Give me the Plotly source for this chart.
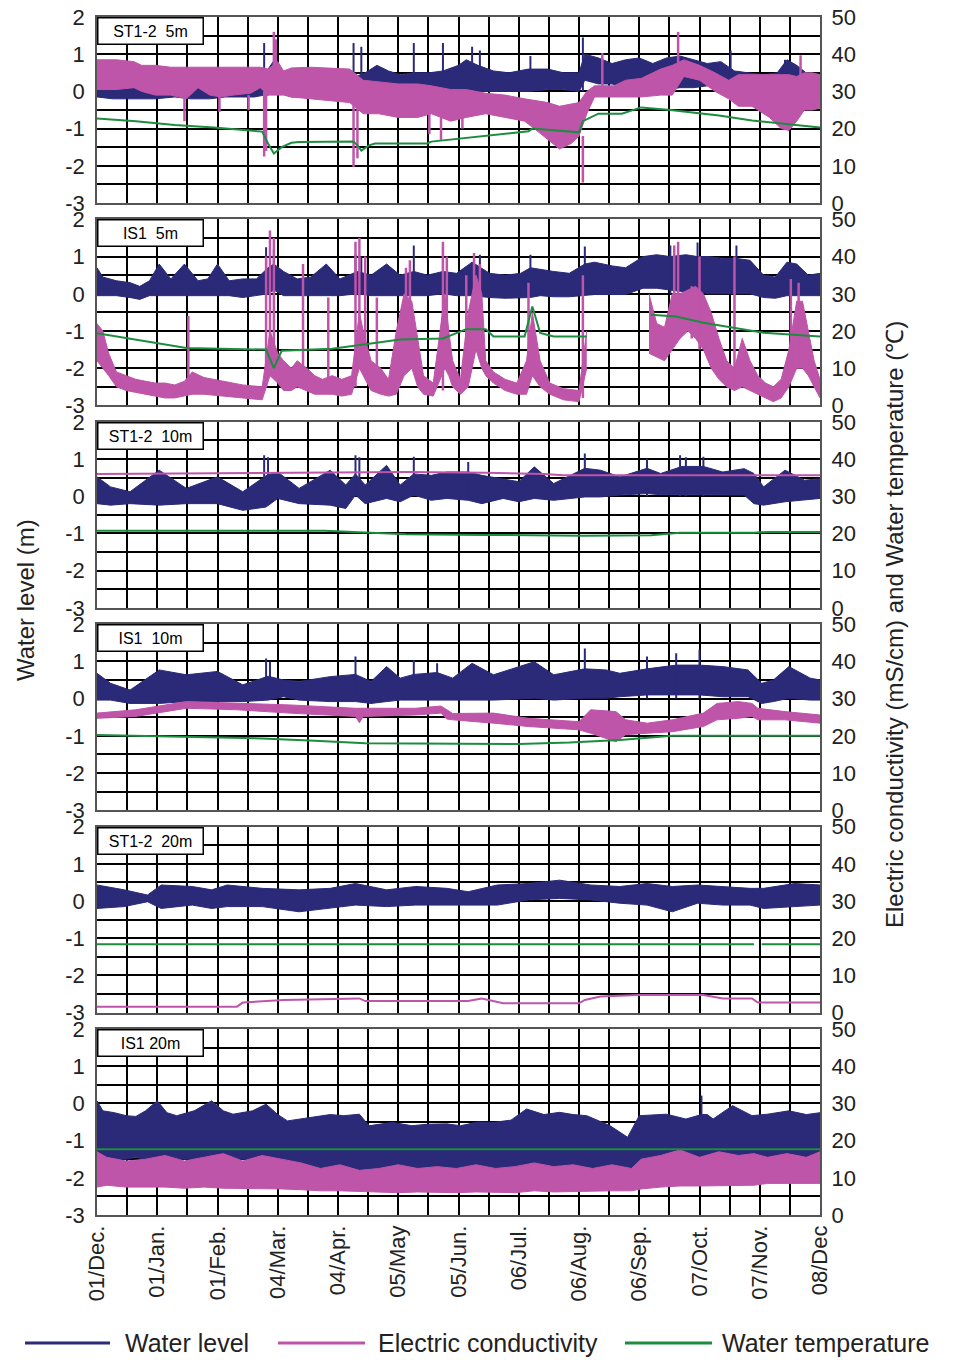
import plotly.graph_objects as go

# ---------------- DATA (day 0 = 01/Dec, day 372 = 08/Dec) ----------------
TICK_LABELS = ["01/Dec.", "01/Jan.", "01/Feb.", "04/Mar.", "04/Apr.", "05/May", "05/Jun.",
               "06/Jul.", "06/Aug.", "06/Sep.", "07/Oct.", "07/Nov.", "08/Dec"]
PANEL_NAMES = ["ST1-2\u00a0\u00a05m", "IS1\u00a0\u00a05m", "ST1-2\u00a0\u00a010m",
               "IS1\u00a0\u00a010m", "ST1-2\u00a0\u00a020m", "IS1\u00a020m"]
SERIES_NAMES = ["Water level", "Electric conductivity", "Water temperature"]

# ---- Panel 1: ST1-2 5m (water level band in m; EC band in mS/cm; temperature in degC)
P1_WL_DAY = [0, 8, 16, 22, 30, 40, 48, 58, 66, 74, 81, 86, 88, 92, 95, 100, 108, 116, 124, 131,
             138, 144, 150, 156, 163, 171, 178, 186, 190, 196, 204, 212, 222, 232, 240, 248, 251, 258, 265, 272,
             279, 286, 293, 300, 307, 314, 321, 328, 335, 343, 350, 355, 360, 366, 372]
P1_WL_HI = [0.35, 0.30, 0.15, 0.10, 0.15, 0.20, 0.30, 0.25, 0.30, 0.35, 0.40, 0.45, 0.60, 0.90, 0.50, 0.30, 0.25, 0.30, 0.30, 0.35,
            0.50, 0.70, 0.55, 0.45, 0.50, 0.50, 0.55, 0.70, 0.85, 0.70, 0.55, 0.50, 0.60, 0.60, 0.50, 0.50, 1.00, 0.90, 0.75, 0.85,
            0.90, 0.75, 0.90, 0.95, 0.85, 0.75, 0.80, 0.55, 0.50, 0.45, 0.50, 0.85, 0.70, 0.45, 0.45]
P1_WL_LO = [-0.15, -0.2, -0.2, -0.2, -0.2, -0.15, -0.2, -0.2, -0.15, -0.15, -0.15, -0.1, -0.1, 0.0, -0.05, -0.15, -0.15, -0.1, -0.1, -0.1,
            0.05, 0.05, 0.0, 0.05, 0.0, 0.05, 0.05, 0.0, 0.0, 0.0, 0.0, 0.0, 0.0, 0.05, 0.05, 0.0, 0.3, 0.2, 0.2, 0.1,
            -0.05, 0.0, 0.05, 0.1, 0.1, 0.15, 0.2, 0.25, 0.3, 0.3, 0.25, 0.3, 0.3, 0.25, 0.25]
P1_WL_SPIKE_DAY = [53, 82, 86, 132, 136, 163, 178, 193, 197, 223, 250, 326, 354]
P1_WL_SPIKE_TOP = [0.5, 0.5, 1.3, 1.3, 1.2, 1.3, 1.3, 1.2, 1.1, 0.95, 1.45, 1.1, 0.85]
P1_EC_DAY = [0, 10, 19, 23, 30, 38, 46, 52, 58, 64, 70, 79, 84, 88, 93, 96, 100, 110, 120, 130,
             137, 145, 155, 165, 172, 182, 190, 200, 210, 220, 225, 232, 238, 244, 248, 252, 256, 266, 272, 280,
             290, 296, 302, 310, 318, 325, 330, 337, 340, 346, 352, 356, 360, 364, 368, 372]
P1_EC_HI = [38.5, 38.5, 38, 37, 37, 36.5, 36.5, 36.5, 36.5, 36.5, 36.5, 36.5, 36.5, 36, 38, 35.5, 36.3, 36.5, 36.3, 36,
            33, 32.5, 32, 32, 31.5, 30.5, 30.5, 29.5, 29, 28, 27.5, 27, 26, 26.5, 27, 30, 31.5, 31.5, 33, 33.5,
            36, 37, 38.5, 37, 35, 33, 34.5, 34.5, 34.5, 34.5, 34.5, 34.5, 34, 35, 35, 34.5]
P1_EC_LO = [30.5, 30.5, 31, 30, 29, 29, 28, 31, 29, 28.5, 29, 29.5, 31, 29, 29, 29, 28.5, 28, 27.5, 27,
            24, 24, 23, 23, 24, 22, 23, 24, 23, 22, 20, 17, 14.5, 16, 18, 24, 28.5, 28.5, 28.5, 28.5,
            29, 29, 34, 33, 30, 28, 26, 26, 25, 23, 20, 19.5, 22, 25, 25, 25.5]
P1_EC_SPIKE_DAY = [45, 63, 78, 86, 87, 91, 92, 132, 134, 171, 177, 188, 250, 260, 299, 362]
P1_EC_SPIKE_FROM = [29, 29, 29, 30, 30, 36, 36, 27, 27, 24, 23, 23, 18, 31, 37, 34]
P1_EC_SPIKE_TO = [22, 24.5, 25, 12.5, 14, 46, 44, 9.7, 12, 18.5, 17, 20, 5.5, 40.3, 46, 39.7]
P1_T_DAY = [0, 20, 40, 60, 85, 88, 91, 95, 100, 104, 132, 134, 136, 140, 143, 170, 172, 200, 222, 224,
            248, 250, 258, 270, 280, 295, 320, 337, 372]
P1_T = [22.7, 22, 21, 20.3, 19.2, 16, 13.3, 15, 16.2, 16.4, 16.5, 15.5, 14.1, 15.5, 16, 16, 16.5, 18, 19.3, 20,
        19, 22, 24, 24, 25.7, 25, 23.5, 22.2, 20.3]

# ---- Panel 2: IS1 5m
P2_WL_DAY = [0, 3, 10, 17, 22, 27, 32, 38, 45, 52, 57, 62, 68, 75, 82, 88, 91, 96, 103, 110,
             118, 125, 134, 141, 149, 156, 163, 170, 178, 185, 193, 202, 210, 218, 223, 228, 235, 243, 251, 256,
             265, 272, 281, 288, 295, 303, 309, 315, 322, 329, 336, 343, 349, 355, 360, 366, 372]
P2_WL_HI = [0.7, 0.45, 0.35, 0.3, 0.2, 0.35, 0.8, 0.4, 0.8, 0.35, 0.4, 0.8, 0.35, 0.4, 0.4, 0.7, 0.8, 0.6, 0.4, 0.45,
            0.8, 0.4, 0.6, 0.5, 0.8, 0.5, 0.6, 0.5, 0.6, 0.55, 0.85, 0.55, 0.5, 0.55, 0.7, 0.65, 0.6, 0.55, 0.8, 0.85,
            0.75, 0.7, 1.0, 1.05, 1.0, 1.05, 1.0, 1.0, 0.95, 0.95, 0.9, 0.5, 0.45, 0.85, 0.8, 0.5, 0.55]
P2_WL_LO = [-0.05, -0.05, -0.05, -0.1, -0.15, -0.05, -0.05, -0.05, -0.05, -0.05, -0.05, -0.05, -0.05, -0.1, -0.05, 0.0, 0.1, -0.05, -0.05, -0.05,
            -0.05, -0.05, 0.0, -0.05, -0.05, -0.05, -0.05, -0.05, 0.0, -0.05, -0.05, -0.1, -0.12, -0.1, -0.1, -0.05, -0.08, -0.08, -0.05, -0.02,
            -0.02, -0.02, 0.15, 0.15, 0.1, 0.05, 0.05, 0.0, 0.0, 0.0, 0.0, -0.1, -0.12, -0.05, -0.05, -0.05, -0.05]
P2_WL_SPIKE_DAY = [87, 91, 133, 136, 163, 178, 197, 223, 251, 295, 309, 329]
P2_WL_SPIKE_TOP = [1.25, 1.2, 1.05, 1.0, 1.3, 1.25, 1.05, 1.05, 1.27, 1.3, 1.38, 1.3]
P2_EC_DAY = [0, 3, 6, 10, 15, 20, 25, 30, 35, 40, 45, 49, 55, 65, 75, 85, 89, 93, 96, 100,
             103, 108, 112, 116, 121, 126, 131, 135, 137, 141, 146, 150, 154, 158, 162, 165, 168, 173, 179, 181,
             183, 187, 191, 195, 198, 200, 204, 210, 216, 221, 224, 228, 233, 240, 248, 252, None,
             284, 288, 292, 296, 300, 304, 308, 312, 316, 320, 324, 328, 332, 336, 340, 344, 348, 352, 356, 360,
             363, 366, 369, 372]
P2_EC_HI = [22, 20, 14, 9, 8, 7, 6.5, 6, 6, 5.5, 6.5, 9, 7.5, 6.5, 5.5, 5, 20, 14, 12, 10,
            12, 10, 8, 7, 8, 7, 8, 25, 20, 12, 10, 7, 20, 30, 28, 18, 8, 6, 30, 20,
            12, 7, 25, 35, 30, 12, 9, 7, 6, 12, 25, 12, 6, 4.5, 4, 20, None,
            30, 22, 21, 30, 30, 31, 32, 30, 25, 18, 12, 10, 18, 12, 8, 6, 5, 7, 15, 28,
            28, 20, 12, 7]
P2_EC_LO = [12, 10, 8, 5, 4, 3.5, 3, 2.5, 2, 2, 2.5, 3, 3, 2.5, 2, 1.5, 8, 6, 4, 4,
            5, 4, 3, 3, 3, 2.5, 3, 10, 8, 4, 3, 2.5, 3, 8, 10, 5, 3, 2.5, 10, 8,
            5, 3, 5, 15, 10, 8, 6, 4, 3, 3, 8, 5, 3, 1.5, 1, 10, None,
            14, 13, 12, 15, 18, 20, 18, 15, 10, 7, 5, 4, 5, 4, 3, 2, 1, 2, 5, 10,
            10, 8, 5, 2]
P2_EC_SPIKE_DAY = [47, 87, 89, 91, 106, 119, 133, 135, 138, 144, 159, 161, 178, 180, 190, 194, 197, 222, 250,
                   297, 299, 306, 310, 328, 357, 361]
P2_EC_SPIKE_FROM = [5, 5, 10, 10, 5, 4, 5, 10, 8, 4, 10, 10, 4, 15, 5, 15, 15, 10, 2,
                    18, 18, 18, 15, 5, 10, 10]
P2_EC_SPIKE_TO = [24, 40, 47, 45, 38, 29, 44, 45, 40, 29, 37, 39, 44, 40, 35, 41, 38, 33, 35,
                  43, 44, 32, 40, 40, 34, 33]
P2_T_DAY = [0, 19, 46, 87, 91, 95, 121, 156, 178, 190, 200, 204, 220, 224, 228, 235, 252, None,
            285, 298, 312, 329, 343, 372]
P2_T = [19.4, 17.7, 15.4, 15, 10, 14.7, 15.2, 17.7, 18, 20.5, 20.5, 18.5, 18.5, 26.6, 19.5, 18.5, 18.5, None,
        24.4, 23.9, 22.2, 20.7, 19.5, 18.5]

# ---- Panel 3: ST1-2 10m
P3_WL_DAY = [0, 7, 17, 32, 46, 62, 75, 87, 93, 104, 120, 128, 133, 138, 149, 156, 163, 172, 180, 191,
             198, 209, 217, 225, 235, 251, 259, 269, 283, 290, 301, 312, 322, 333, 338, 343, 354, 364, 372]
P3_WL_HI = [0.52, 0.25, 0.12, 0.70, 0.21, 0.52, 0.12, 0.55, 0.65, 0.21, 0.70, 0.30, 0.60, 0.30, 0.83, 0.30, 0.60, 0.56, 0.65, 0.65,
            0.56, 0.47, 0.39, 0.79, 0.34, 0.75, 0.70, 0.52, 0.75, 0.61, 0.80, 0.80, 0.65, 0.74, 0.61, 0.25, 0.70, 0.43, 0.47]
P3_WL_LO = [-0.20, -0.24, -0.20, -0.24, -0.20, -0.20, -0.38, -0.29, -0.06, -0.20, -0.24, -0.33, 0.03, -0.20, -0.06, -0.15, 0.03, -0.11, -0.06, -0.11,
            -0.20, -0.06, -0.15, -0.06, -0.11, -0.02, -0.02, 0.03, 0.07, 0.04, 0.04, 0.04, 0.03, 0.03, -0.20, -0.24, -0.15, -0.11, -0.06]
P3_WL_SPIKE_DAY = [86, 88, 133, 135, 163, 191, 251, 283, 300, 303, 312]
P3_WL_SPIKE_TOP = [1.1, 1.05, 1.1, 1.05, 1.06, 0.92, 1.15, 1.01, 1.1, 1.05, 1.06]
P3_EC_DAY = [0, 40, 80, 120, 160, 200, 230, 240, 280, 320, 372]
P3_EC = [36.0, 36.1, 36.3, 36.5, 36.5, 36.3, 36.0, 35.6, 35.6, 35.7, 35.6]
P3_T_DAY = [0, 117, 135, 159, 200, 250, 285, 300, 338, 345, 372]
P3_T = [20.7, 20.7, 20.3, 19.8, 19.6, 19.4, 19.5, 20.2, 20.2, 20.4, 20.4]

# ---- Panel 4: IS1 10m
P4_WL_DAY = [0, 7, 17, 32, 46, 62, 75, 88, 96, 104, 120, 133, 141, 149, 156, 163, 175, 183, 193, 204,
             225, 235, 251, 262, 269, 283, 298, 310, 322, 335, 342, 348, 356, 367, 372]
P4_WL_HI = [0.68, 0.41, 0.23, 0.77, 0.64, 0.73, 0.37, 0.60, 0.50, 0.46, 0.59, 0.65, 0.46, 0.86, 0.55, 0.65, 0.70, 0.55, 0.95, 0.64,
            0.99, 0.64, 0.80, 0.77, 0.68, 0.80, 0.90, 0.90, 0.86, 0.77, 0.41, 0.50, 0.86, 0.55, 0.50]
P4_WL_LO = [-0.04, -0.04, -0.13, -0.13, -0.08, -0.08, -0.08, -0.04, 0.05, -0.04, -0.08, -0.08, -0.13, -0.08, -0.04, -0.04, -0.04, -0.04, -0.04, -0.04,
            0.01, -0.04, 0.01, 0.01, 0.05, 0.10, 0.10, 0.10, 0.05, 0.05, -0.13, -0.08, 0.01, -0.04, -0.04]
P4_WL_SPIKE_DAY = [87, 89, 133, 163, 175, 251, 283, 298, 310]
P4_WL_SPIKE_TOP = [1.08, 1.0, 1.13, 1.04, 0.95, 1.35, 1.13, 1.22, 1.31]
P4_EC_DAY = [0, 20, 46, 72, 99, 133, 135, 137, 164, 177, 180, 183, 204, 222, 248, 254, 267, 272, 283, 296,
             312, 319, 330, 337, 340, 354, 372]
P4_EC_HI = [26.1, 27, 29.2, 28.7, 28.3, 27.4, 27.4, 27.4, 27.4, 28, 27, 26, 26.1, 24.7, 23.8, 27, 26.5, 24.3, 23.4, 24.3,
            26.1, 28.7, 29.2, 28.7, 27.4, 26.5, 25.6]
P4_EC_LO = [24.7, 25.2, 27.4, 27, 26.1, 25.2, 23.5, 25.2, 25.6, 26.1, 24.5, 24.3, 23.4, 22.5, 21.6, 20.7, 18.4, 20.3, 20.7, 21.1,
            22.5, 24.3, 24.7, 25.2, 24.3, 24.3, 23.4]
P4_T_DAY = [0, 46, 85, 112, 138, 217, 243, 269, 296, 372]
P4_T = [20.2, 19.8, 19.3, 18.7, 18.0, 17.8, 18.2, 18.9, 20.0, 20.0]

# ---- Panel 5: ST1-2 20m
P5_WL_DAY = [0, 14, 26, 33, 49, 59, 67, 85, 104, 120, 133, 149, 164, 180, 191, 206, 222, 238, 254, 269,
             283, 296, 309, 322, 336, 343, 359, 372]
P5_WL_HI = [0.43, 0.30, 0.16, 0.43, 0.39, 0.30, 0.43, 0.34, 0.30, 0.34, 0.47, 0.30, 0.39, 0.34, 0.25, 0.43, 0.47, 0.56, 0.43, 0.39,
            0.47, 0.39, 0.43, 0.39, 0.34, 0.34, 0.47, 0.43]
P5_WL_LO = [-0.20, -0.15, -0.02, -0.20, -0.11, -0.20, -0.15, -0.15, -0.29, -0.20, -0.11, -0.15, -0.11, -0.11, -0.11, -0.11, 0.03, 0.07, 0.03, -0.06,
            -0.11, -0.29, -0.06, -0.11, -0.11, -0.20, -0.15, -0.11]
P5_EC_DAY = [0, 72, 75, 96, 135, 138, 191, 198, 209, 248, 251, 259, 278, 312, 322, 337, 340, 372]
P5_EC = [1.6, 1.6, 2.7, 3.4, 3.8, 3.1, 3.1, 3.8, 2.5, 2.5, 3.4, 4.3, 4.7, 4.7, 3.8, 3.8, 2.7, 2.7]
P5_T_DAY = [0, 120, 240, 338, None, 342, 372]
P5_T = [18.4, 18.5, 18.4, 18.4, None, 18.4, 18.4]

# ---- Panel 6: IS1 20m
P6_WL_DAY = [0, 3, 9, 15, 20, 25, 31, 36, 41, 50, 59, 65, 70, 80, 87, 93, 98, 110, 120, 127,
             135, 140, 152, 162, 170, 180, 187, 196, 204, 213, 221, 230, 238, 245, 252, 264, 273, 279, 287, 293,
             303, 308, 311, 314, 317, 327, 337, 345, 356, 365, 372]
P6_WL_HI = [0.07, -0.2, -0.25, -0.33, -0.35, -0.2, 0.07, -0.25, -0.33, -0.2, 0.07, -0.2, -0.29, -0.2, -0.02, -0.3, -0.47, -0.38, -0.3, -0.33,
            -0.29, -0.6, -0.51, -0.6, -0.56, -0.55, -0.6, -0.5, -0.51, -0.45, -0.15, -0.3, -0.24, -0.3, -0.33, -0.6, -0.91, -0.33, -0.3, -0.29,
            -0.42, -0.35, -0.3, -0.3, -0.42, -0.06, -0.33, -0.29, -0.2, -0.3, -0.25]
P6_WL_LO = [-1.45, -1.45, -1.5, -1.5, -1.45, -1.5, -1.45, -1.5, -1.5, -1.5, -1.45, -1.5, -1.5, -1.5, -1.5, -1.55, -1.75, -1.8, -1.8, -1.8,
            -1.85, -1.8, -1.85, -1.8, -1.85, -1.8, -1.85, -1.8, -1.8, -1.8, -1.75, -1.8, -1.8, -1.85, -1.8, -1.8, -1.85, -1.6, -1.6, -1.55,
            -1.6, -1.6, -1.55, -1.6, -1.6, -1.55, -1.6, -1.5, -1.5, -1.5, -1.5]
P6_WL_SPIKE_DAY = [311]
P6_WL_SPIKE_TOP = [0.21]
P6_EC_DAY = [0, 5, 15, 25, 35, 45, 55, 65, 75, 85, 95, 105, 115, 125, 135, 145, 155, 165, 175, 185,
             195, 205, 215, 225, 235, 245, 255, 265, 275, 280, 290, 300, 310, 320, 330, 338, 345, 355, 365, 372]
P6_EC_HI = [17, 15.5, 14.5, 15, 16, 14.5, 15.5, 16.5, 14.5, 16, 15, 14, 12.5, 13.5, 12, 12.5, 13.5, 12.5, 13, 12.5,
            13.5, 12.5, 13, 14, 13, 13.5, 12.5, 13.5, 12.5, 15, 16, 17.5, 15.5, 17, 16, 16.5, 15.5, 16.5, 15.5, 17]
P6_EC_LO = [7.5, 8, 7.5, 7.5, 7.5, 7.2, 7.5, 7.2, 7.2, 7.2, 7.0, 6.8, 6.5, 6.5, 6.3, 6.0, 6.0, 6.2, 6.0, 6.0,
            6.2, 6.0, 6.0, 6.5, 6.2, 6.3, 6.5, 6.5, 6.5, 7.0, 7.5, 7.8, 7.8, 7.8, 8.0, 8.0, 8.5, 8.5, 8.5, 8.5]
P6_T_DAY = [0, 186, 372]
P6_T = [17.7, 17.7, 17.7]

# ---------------- STYLE / LAYOUT ----------------
NAVY, PINK, GREEN = "#2A2A78", "#BE55A9", "#1C8C3E"
W, H = 954, 1360
XL, XR = 97, 820                          # plot area in page pixels
PANEL_TOP = [17 + 202.4 * i for i in range(6)]
PANEL_H = 186
FONT = "Liberation Sans, Arial, sans-serif"


def px(x):
    return x / W


def py(y):
    return 1 - y / H


fig = go.Figure()


def split(days, *cols):
    segs, cur = [], [[] for _ in range(len(cols) + 1)]
    for i, d in enumerate(days):
        if d is None:
            if cur[0]:
                segs.append(cur)
            cur = [[] for _ in range(len(cols) + 1)]
            continue
        cur[0].append(d)
        for k, c in enumerate(cols):
            cur[k + 1].append(c[i])
    if cur[0]:
        segs.append(cur)
    return segs


def band(days, lo, hi, color, xa, ya, name):
    for d, l, h in split(days, lo, hi):
        fig.add_trace(go.Scatter(x=d, y=l, mode="lines", line=dict(color=color, width=1),
                                 xaxis=xa, yaxis=ya, showlegend=False, name=name, hoverinfo="skip"))
        fig.add_trace(go.Scatter(x=d, y=h, mode="lines", line=dict(color=color, width=1),
                                 fill="tonexty", fillcolor=color, xaxis=xa, yaxis=ya,
                                 showlegend=False, name=name, hoverinfo="skip"))


def spikes(days, frm, to, color, xa, ya, name, width=2):
    xs, ys = [], []
    for d, a, b in zip(days, frm, to):
        xs += [d, d, None]
        ys += [a, b, None]
    fig.add_trace(go.Scatter(x=xs, y=ys, mode="lines", line=dict(color=color, width=width),
                             xaxis=xa, yaxis=ya, showlegend=False, name=name, hoverinfo="skip"))


def line(days, vals, color, xa, ya, name, width=2):
    fig.add_trace(go.Scatter(x=days, y=vals, mode="lines", line=dict(color=color, width=width),
                             connectgaps=False, xaxis=xa, yaxis=ya, showlegend=False, name=name,
                             hoverinfo="skip"))


panels = [
    dict(wl=(P1_WL_DAY, P1_WL_LO, P1_WL_HI), wls=(P1_WL_SPIKE_DAY, P1_WL_SPIKE_TOP),
         ec=("band", P1_EC_DAY, P1_EC_LO, P1_EC_HI), ecs=(P1_EC_SPIKE_DAY, P1_EC_SPIKE_FROM, P1_EC_SPIKE_TO),
         t=(P1_T_DAY, P1_T)),
    dict(wl=(P2_WL_DAY, P2_WL_LO, P2_WL_HI), wls=(P2_WL_SPIKE_DAY, P2_WL_SPIKE_TOP),
         ec=("band", P2_EC_DAY, P2_EC_LO, P2_EC_HI), ecs=(P2_EC_SPIKE_DAY, P2_EC_SPIKE_FROM, P2_EC_SPIKE_TO),
         t=(P2_T_DAY, P2_T)),
    dict(wl=(P3_WL_DAY, P3_WL_LO, P3_WL_HI), wls=(P3_WL_SPIKE_DAY, P3_WL_SPIKE_TOP),
         ec=("line", P3_EC_DAY, P3_EC), ecs=None, t=(P3_T_DAY, P3_T)),
    dict(wl=(P4_WL_DAY, P4_WL_LO, P4_WL_HI), wls=(P4_WL_SPIKE_DAY, P4_WL_SPIKE_TOP),
         ec=("band", P4_EC_DAY, P4_EC_LO, P4_EC_HI), ecs=None, t=(P4_T_DAY, P4_T)),
    dict(wl=(P5_WL_DAY, P5_WL_LO, P5_WL_HI), wls=None,
         ec=("line", P5_EC_DAY, P5_EC), ecs=None, t=(P5_T_DAY, P5_T)),
    dict(wl=(P6_WL_DAY, P6_WL_LO, P6_WL_HI), wls=(P6_WL_SPIKE_DAY, P6_WL_SPIKE_TOP),
         ec=("band", P6_EC_DAY, P6_EC_LO, P6_EC_HI), ecs=None, t=(P6_T_DAY, P6_T)),
]

X_GRID = [15.5 * k for k in range(25)]
X_TEXT = [TICK_LABELS[k // 2] if k % 2 == 0 else "" for k in range(25)]
YL_VALS = [-3 + 0.5 * k for k in range(11)]
YL_TEXT = [str(int(v)) if float(v).is_integer() else "" for v in YL_VALS]

layout = {}
annotations = []
for i, p in enumerate(panels):
    xa = "x" if i == 0 else f"x{i + 1}"
    yl = f"y{2 * i + 1}" if i > 0 else "y"
    yr = f"y{2 * i + 2}"
    top = PANEL_TOP[i]
    dom = [py(top + PANEL_H), py(top)]
    band(*p["wl"], NAVY, xa, yl, SERIES_NAMES[0])
    if p["wls"]:
        sd, st = p["wls"]
        base = -1.0 if i == 5 else 0.0
        spikes(sd, [base] * len(sd), st, NAVY, xa, yl, SERIES_NAMES[0])
    if p["ec"][0] == "band":
        band(*p["ec"][1:], PINK, xa, yr, SERIES_NAMES[1])
    else:
        line(*p["ec"][1:], PINK, xa, yr, SERIES_NAMES[1], width=2)
    if p["ecs"]:
        spikes(*p["ecs"], PINK, xa, yr, SERIES_NAMES[1], width=2.5)
    line(*p["t"], GREEN, xa, yr, SERIES_NAMES[2], width=2)

    bottom = (i == 5)
    layout["xaxis" if i == 0 else f"xaxis{i + 1}"] = dict(
        domain=[px(XL), px(XR)], range=[0, 372], anchor=yl, automargin=False,
        tickmode="array", tickvals=X_GRID, ticktext=X_TEXT if bottom else [""] * 25,
        showticklabels=bottom, tickangle=-90, ticklabeloverflow="allow",
        showgrid=True, gridcolor="black", gridwidth=1.5, zeroline=False,
        showline=True, mirror=True, linecolor="#555", linewidth=1.5, ticks="",
        tickfont=dict(family=FONT, size=22, color="#222"), fixedrange=True)
    layout["yaxis" if i == 0 else f"yaxis{2 * i + 1}"] = dict(
        domain=dom, range=[-3, 2], anchor=xa, automargin=False,
        tickmode="array", tickvals=YL_VALS, ticktext=YL_TEXT, ticklabeloverflow="allow",
        showgrid=True, gridcolor="black", gridwidth=1.5, zeroline=False,
        showline=True, mirror=True, linecolor="#555", linewidth=1.5,
        ticks="outside", ticklen=6, tickcolor="rgba(0,0,0,0)",
        tickfont=dict(family=FONT, size=22, color="#222"), fixedrange=True)
    layout[f"yaxis{2 * i + 2}"] = dict(
        overlaying=yl, side="right", range=[0, 50], anchor=xa, automargin=False,
        tickmode="array", tickvals=[0, 10, 20, 30, 40, 50], ticklabeloverflow="allow",
        showgrid=False, zeroline=False, showline=False,
        ticks="outside", ticklen=6, tickcolor="rgba(0,0,0,0)",
        tickfont=dict(family=FONT, size=22, color="#222"), fixedrange=True)
    annotations.append(dict(
        text=PANEL_NAMES[i], xref="paper", yref="paper", x=px(XL), y=py(top),
        xanchor="left", yanchor="top", showarrow=False, align="center",
        width=100, height=21, borderpad=2, bordercolor="black", borderwidth=1.5,
        bgcolor="white", font=dict(family=FONT, size=16, color="black")))

annotations.append(dict(text="Water level (m)", xref="paper", yref="paper", x=px(25), y=py(600),
                        textangle=-90, showarrow=False, xanchor="center", yanchor="middle",
                        font=dict(family=FONT, size=24, color="#222")))
annotations.append(dict(text="Electric conductivity (mS/cm) and Water temperature (\u2103)",
                        xref="paper", yref="paper", x=px(895), y=py(625),
                        textangle=-90, showarrow=False, xanchor="center", yanchor="middle",
                        font=dict(family=FONT, size=24, color="#222")))

shapes = []
LEG_Y = py(1343)
for (x0, x1, tx, col, name) in [(25, 110, 123, NAVY, SERIES_NAMES[0]),
                                (278, 365, 376, PINK, SERIES_NAMES[1]),
                                (625, 712, 720, GREEN, SERIES_NAMES[2])]:
    shapes.append(dict(type="line", xref="paper", yref="paper", x0=px(x0), x1=px(x1),
                       y0=LEG_Y, y1=LEG_Y, line=dict(color=col, width=3)))
    annotations.append(dict(text=name, xref="paper", yref="paper", x=px(tx), y=LEG_Y,
                            xanchor="left", yanchor="middle", showarrow=False,
                            font=dict(family=FONT, size=25, color="#222")))

fig.update_layout(width=W, height=H, autosize=False, margin=dict(l=0, r=0, t=0, b=0, pad=0),
                  paper_bgcolor="white", plot_bgcolor="white", showlegend=False,
                  annotations=annotations, shapes=shapes, **layout)

fig.write_html("out.html", config={"displayModeBar": False},
               post_script="document.body.style.margin='0';document.body.style.overflow='hidden';")
